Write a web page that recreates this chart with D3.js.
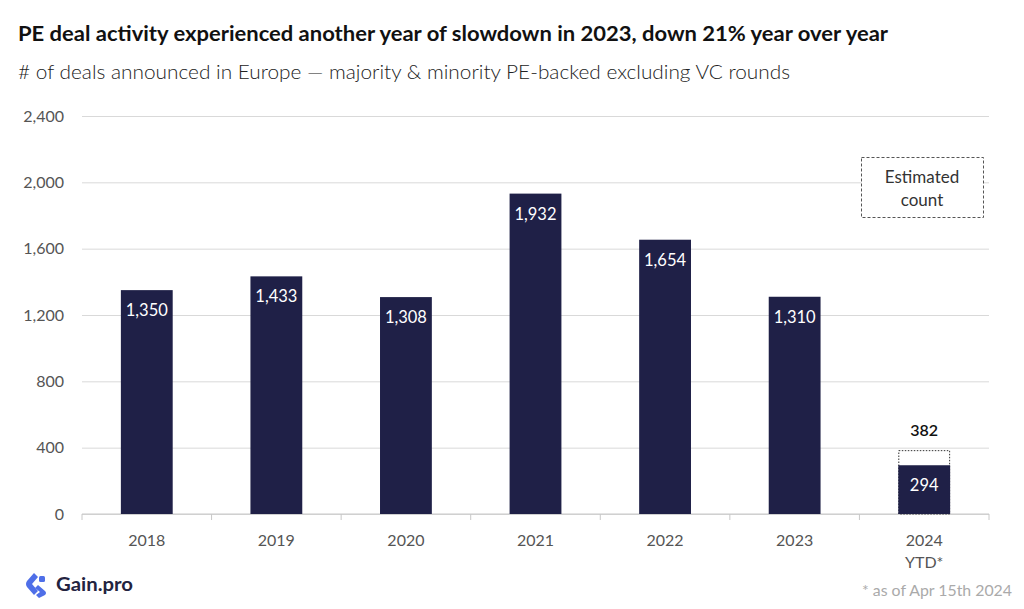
<!DOCTYPE html>
<html><head><meta charset="utf-8">
<script src="https://cdn.jsdelivr.net/npm/d3@7"></script>
<style>body{margin:0;background:#fff}svg{display:block}</style>
</head><body>
<svg id="c" width="1024" height="609"></svg>
<script>
const categories = ["2018","2019","2020","2021","2022","2023","2024"];
const catLabels2 = ["","","","","","","YTD*"];
const values = [1350,1433,1308,1932,1654,1310,294];
const estimated = [null,null,null,null,null,null,382];
const yTicks = [0,400,800,1200,1600,2000,2400];

const svg = d3.select("#c");
const font = "Lato, 'Source Sans Pro', 'Noto Sans', sans-serif";
const m = {l:82, r:989, t:116, b:514};
const x = d3.scaleBand().domain(categories).range([m.l, m.r]).paddingInner(0.6).paddingOuter(0.3);
const y = d3.scaleLinear().domain([0,2400]).range([m.b, m.t]);
const bar = "#1f2047";

svg.append("text").attr("x",18).attr("y",41).attr("font-family",font).attr("font-weight",700)
  .attr("font-size",21).attr("fill","#111").attr("textLength",870).attr("lengthAdjust","spacingAndGlyphs")
  .text("PE deal activity experienced another year of slowdown in 2023, down 21% year over year");
svg.append("text").attr("x",18).attr("y",79).attr("font-family",font).attr("font-weight",300)
  .attr("font-size",20).attr("fill","#222").attr("textLength",772).attr("lengthAdjust","spacingAndGlyphs")
  .text("# of deals announced in Europe — majority & minority PE-backed excluding VC rounds");

// grid
const ga = svg.append("g").attr("transform",`translate(${m.l},0)`)
  .call(d3.axisLeft(y).tickValues(yTicks).tickSize(-(m.r-m.l)).tickFormat(d3.format(",")));
ga.select(".domain").remove();
ga.selectAll(".tick line").attr("stroke","#d9d9d9");
ga.selectAll(".tick text").attr("x",-18).attr("font-family",font).attr("font-size",16).attr("fill","#555");

// x axis
const xb = d3.scaleOrdinal().domain(categories).range(categories.map(c=>x(c)+x.bandwidth()/2));
const xa = svg.append("g").attr("transform",`translate(0,${m.b})`);
xa.append("line").attr("x1",m.l).attr("x2",m.r).attr("stroke","#c8c8c8");
const bounds = d3.range(categories.length+1).map(i=>m.l + i*(m.r-m.l)/categories.length);
xa.selectAll(".tk").data(bounds).join("line").attr("x1",d=>d).attr("x2",d=>d).attr("y1",0).attr("y2",6).attr("stroke","#c8c8c8");
xa.selectAll(".xl").data(categories).join("text").attr("x",d=>xb(d)).attr("y",32)
  .attr("text-anchor","middle").attr("font-family",font).attr("font-size",16).attr("fill","#555").text(d=>d);
xa.selectAll(".xl2").data(categories.map((c,i)=>[c,catLabels2[i]])).join("text").attr("x",d=>xb(d[0])).attr("y",54)
  .attr("text-anchor","middle").attr("font-family",font).attr("font-size",16).attr("fill","#555").text(d=>d[1]);

// estimated outline
svg.selectAll(".est").data(categories.map((c,i)=>[c,estimated[i]]).filter(d=>d[1]!=null)).join("rect")
  .attr("x",d=>x(d[0])+0.5).attr("y",d=>y(d[1])).attr("width",x.bandwidth()-1).attr("height",d=>y(0)-y(d[1]))
  .attr("fill","none").attr("stroke","#333").attr("stroke-dasharray","1.5,1.5").attr("stroke-width",1);
svg.selectAll(".estl").data(categories.map((c,i)=>[c,estimated[i]]).filter(d=>d[1]!=null)).join("text")
  .attr("x",d=>x(d[0])+x.bandwidth()/2).attr("y",d=>y(d[1])-15).attr("text-anchor","middle")
  .attr("font-family",font).attr("font-size",16).attr("font-weight",600).attr("fill","#111").text(d=>d3.format(",")(d[1]));

// bars
svg.selectAll(".bar").data(categories.map((c,i)=>[c,values[i]])).join("rect")
  .attr("x",d=>x(d[0])).attr("y",d=>y(d[1])).attr("width",x.bandwidth()).attr("height",d=>y(0)-y(d[1])).attr("fill",bar);
svg.selectAll(".bl").data(categories.map((c,i)=>[c,values[i]])).join("text")
  .attr("x",d=>x(d[0])+x.bandwidth()/2).attr("y",d=>y(d[1])+26).attr("text-anchor","middle")
  .attr("font-family",font).attr("font-size",16.5).attr("fill","#fff").text(d=>d3.format(",")(d[1]));

// legend box
const lg = svg.append("g");
lg.append("rect").attr("x",861.5).attr("y",157.5).attr("width",122).attr("height",60).attr("fill","#fff")
  .attr("stroke","#555").attr("stroke-dasharray","3,2");
lg.append("text").attr("x",922).attr("y",183).attr("text-anchor","middle").attr("font-family",font).attr("font-size",17).attr("fill","#333").text("Estimated");
lg.append("text").attr("x",922).attr("y",206).attr("text-anchor","middle").attr("font-family",font).attr("font-size",17).attr("fill","#333").text("count");

// footnote
svg.append("text").attr("x",1012).attr("y",596).attr("text-anchor","end").attr("font-family",font).attr("font-size",15).attr("fill","#aaa")
  .attr("textLength",150).attr("lengthAdjust","spacingAndGlyphs").text("* as of Apr 15th 2024");

// logo
const lgo = svg.append("g").attr("transform","translate(25,570)");
lgo.append("path").attr("d","M9,3 L2,11 Q0,14 2,17 L9,25 L13,21 L7,14 L13,7 Z").attr("fill","#4f6fe8");
lgo.append("path").attr("d","M13,15 L20,21 Q22,23 20,25 L14,28 L11,25 L15,22 L10,18 Z").attr("fill","#4f6fe8");
lgo.append("rect").attr("x",14).attr("y",6).attr("width",6).attr("height",6).attr("rx",1.5).attr("fill","#4f6fe8");
svg.append("text").attr("x",56).attr("y",591).attr("font-family",font).attr("font-weight",700).attr("font-size",19).attr("fill","#23233f")
  .attr("textLength",77).attr("lengthAdjust","spacingAndGlyphs").text("Gain.pro");
</script>
</body></html>
